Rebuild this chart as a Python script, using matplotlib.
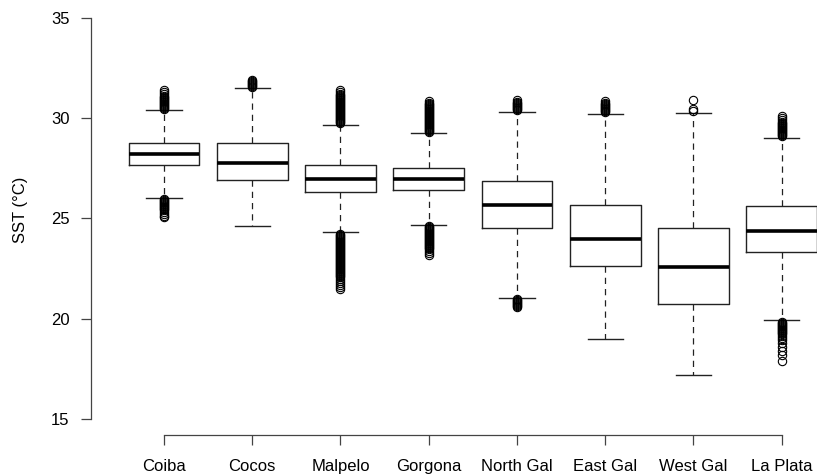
import matplotlib
matplotlib.use("Agg")
import matplotlib.pyplot as plt

# ---------------- data ----------------
sites = ['Coiba', 'Cocos', 'Malpelo', 'Gorgona', 'North Gal', 'East Gal', 'West Gal', 'La Plata']
q1 = [27.65, 26.93, 26.33, 26.40, 24.55, 22.63, 20.72, 23.33]
med = [28.22, 27.75, 26.95, 26.95, 25.65, 23.98, 22.57, 24.38]
q3 = [28.77, 28.77, 27.68, 27.53, 26.87, 25.67, 24.55, 25.63]
whislo = [26.02, 24.63, 24.32, 24.70, 21.05, 18.98, 17.18, 19.92]
whishi = [30.40, 31.50, 29.68, 29.25, 30.32, 30.22, 30.28, 29.03]

fliers = [
    [30.45, 30.5, 30.55, 30.6, 30.65, 30.7, 30.75, 30.8, 30.85, 30.9, 30.95, 31.0,
     31.05, 31.1, 31.2, 31.3, 31.42,
     25.05, 25.12, 25.2, 25.3, 25.4, 25.45, 25.5, 25.55, 25.6, 25.65, 25.7, 25.75,
     25.8, 25.85, 25.9, 25.95],
    [31.55, 31.6, 31.65, 31.7, 31.75, 31.8, 31.85, 31.9],
    [29.75, 29.8, 29.85, 29.9, 29.95, 30.0, 30.05, 30.1, 30.15, 30.2, 30.25, 30.3,
     30.35, 30.4, 30.45, 30.5, 30.55, 30.6, 30.65, 30.7, 30.75, 30.8, 30.85, 30.9,
     30.95, 31.0, 31.05, 31.1, 31.15, 31.2, 31.3, 31.4,
     21.5, 21.6, 21.7, 21.8, 21.9, 22.0, 22.1, 22.15, 22.2, 22.25, 22.3, 22.35,
     22.4, 22.45, 22.5, 22.55, 22.6, 22.65, 22.7, 22.75, 22.8, 22.85, 22.9, 22.95,
     23.0, 23.05, 23.1, 23.15, 23.2, 23.25, 23.3, 23.35, 23.4, 23.45, 23.5, 23.55,
     23.6, 23.65, 23.7, 23.75, 23.8, 23.85, 23.9, 23.95, 24.0, 24.05, 24.1, 24.15,
     24.2, 24.25],
    [29.3, 29.35, 29.4, 29.45, 29.5, 29.55, 29.6, 29.65, 29.7, 29.75, 29.8, 29.85,
     29.9, 29.95, 30.0, 30.05, 30.1, 30.15, 30.2, 30.25, 30.3, 30.35, 30.4, 30.45,
     30.5, 30.55, 30.6, 30.65, 30.7, 30.75, 30.85,
     23.2, 23.3, 23.4, 23.5, 23.55, 23.6, 23.65, 23.7, 23.75, 23.8, 23.85, 23.9,
     23.95, 24.0, 24.05, 24.1, 24.15, 24.2, 24.25, 24.3, 24.35, 24.4, 24.45, 24.5,
     24.55, 24.6, 24.65],
    [30.4, 30.45, 30.5, 30.55, 30.6, 30.65, 30.7, 30.75, 30.8, 30.9,
     20.6, 20.65, 20.7, 20.75, 20.8, 20.85, 20.9, 20.95, 21.0],
    [30.3, 30.35, 30.4, 30.45, 30.5, 30.55, 30.6, 30.65, 30.7, 30.75, 30.85],
    [30.35, 30.45, 30.9],
    [29.1, 29.15, 29.2, 29.25, 29.3, 29.35, 29.4, 29.45, 29.5, 29.55, 29.6, 29.65,
     29.7, 29.75, 29.8, 29.9, 30.0, 30.1,
     17.87, 18.2, 18.4, 18.6, 18.8, 18.95, 19.05, 19.15, 19.25, 19.3, 19.35, 19.4,
     19.45, 19.5, 19.55, 19.6, 19.65, 19.7, 19.75, 19.8, 19.85],
]

yticks = [15, 20, 25, 30, 35]

# ---------------- figure ----------------
plt.rcParams['font.family'] = ['Liberation Sans', 'DejaVu Sans']

W, H = 817, 475
fig = plt.figure(figsize=(W / 100, H / 100), dpi=100)
ax = fig.add_axes([91 / W, 1 - 435 / H, 1 - 91 / W, (435 - 2) / H])

line_col = '#222222'

stats = []
for i in range(len(sites)):
    stats.append(dict(label=sites[i], q1=q1[i], med=med[i], q3=q3[i],
                      whislo=whislo[i], whishi=whishi[i], fliers=fliers[i]))

ax.bxp(stats, positions=range(1, len(sites) + 1), widths=0.8, capwidths=0.4,
       boxprops=dict(color=line_col, linewidth=1.0),
       medianprops=dict(color='black', linewidth=2.6, solid_capstyle='butt'),
       whiskerprops=dict(color=line_col, linewidth=0.9, linestyle=(0, (5, 4))),
       capprops=dict(color=line_col, linewidth=1.0),
       flierprops=dict(marker='o', markerfacecolor='none', markeredgecolor='black',
                       markersize=6, markeredgewidth=0.8, linestyle='none'))

ax.set_xlim(0.173, 8.40)
ax.set_ylim(14.2, 35.8)
ax.set_yticks(yticks)
ax.set_yticklabels([str(t) for t in yticks])
ax.set_xticks(range(1, len(sites) + 1))
ax.set_xticklabels(sites)

for s in ['top', 'right']:
    ax.spines[s].set_visible(False)
ax.spines['left'].set_bounds(15, 35)
ax.spines['bottom'].set_bounds(1, 8)
for s in ['left', 'bottom']:
    ax.spines[s].set_linewidth(0.9)
    ax.spines[s].set_color('#444444')

ax.tick_params(axis='both', length=7.5, width=0.9, color='#444444',
               labelsize=12, direction='out')
ax.tick_params(axis='y', pad=8)
ax.tick_params(axis='x', pad=10)

fig.text(21 / W, 1 - 210 / H, 'SST (°C)', rotation=90, ha='center', va='center',
         fontsize=12)

fig.savefig('out.png', dpi=100)
